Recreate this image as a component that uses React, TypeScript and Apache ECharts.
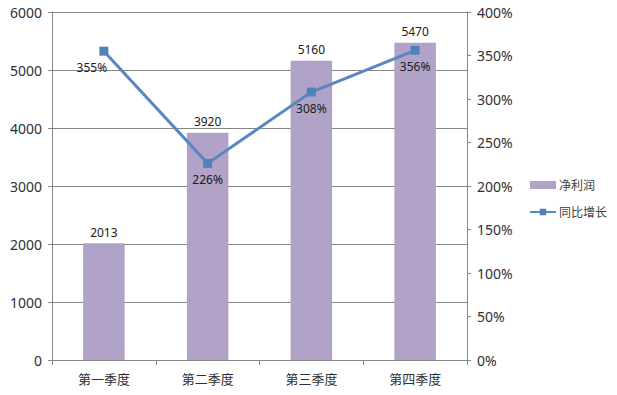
import React, { useEffect, useRef } from "react";
import * as echarts from "echarts";

const categories = ["第一季度", "第二季度", "第三季度", "第四季度"];
const profit = [2013, 3920, 5160, 5470];
const growth = [355, 226, 308, 356];
const growthLabelOffsets = [[-12, 0], [0, 0], [0, 0], [0, 0]];

export default function App() {
  const ref = useRef<HTMLDivElement>(null);
  useEffect(() => {
    const chart = echarts.init(ref.current!, undefined, { renderer: "svg" });
    const font = "'Noto Sans', 'Noto Sans CJK SC', sans-serif";
    chart.setOption({
      animation: false,
      backgroundColor: "#ffffff",
      textStyle: { fontFamily: font },
      grid: { left: 52, right: 150, top: 12, bottom: 35 },
      legend: {
        orient: "vertical",
        left: 529,
        top: 179,
        width: 88,
        padding: 0,
        itemWidth: 26,
        itemHeight: 8,
        itemGap: 15,
        textStyle: { fontSize: 12, color: "#404040", fontFamily: font, padding: [0, 0, 0, -2] },
        data: [
          { name: "净利润", icon: "rect" },
          { name: "同比增长" },
        ],
      },
      xAxis: {
        type: "category",
        data: categories,
        axisLine: { lineStyle: { color: "#868686" } },
        axisTick: { show: true, length: 5, lineStyle: { color: "#868686" } },
        axisLabel: { color: "#303030", fontSize: 13, margin: 12, fontFamily: font },
      },
      yAxis: [
        {
          type: "value",
          min: 0,
          max: 6000,
          interval: 1000,
          axisLine: { show: true, lineStyle: { color: "#868686" } },
          axisTick: { show: true, length: 4, lineStyle: { color: "#868686" } },
          axisLabel: {
            color: "#303030",
            fontSize: 14,
            margin: 10,
            fontFamily: font,
            formatter: (v: number) => String(v),
          },
          splitLine: { show: true, lineStyle: { color: "#868686" } },
        },
        {
          type: "value",
          min: 0,
          max: 400,
          interval: 50,
          position: "right",
          axisLine: { show: true, lineStyle: { color: "#868686" } },
          axisTick: { show: true, length: 4, lineStyle: { color: "#868686" } },
          axisLabel: {
            color: "#303030",
            fontSize: 14,
            margin: 10,
            fontFamily: font,
            formatter: "{value}%",
          },
          splitLine: { show: false },
        },
      ],
      series: [
        {
          name: "净利润",
          type: "bar",
          data: profit,
          barWidth: "40%",
          itemStyle: { color: "#B1A3C8" },
          label: {
            show: true,
            position: "top",
            color: "#202020",
            fontSize: 12,
            distance: 5,
            fontFamily: font,
          },
        },
        {
          name: "同比增长",
          type: "line",
          yAxisIndex: 1,
          data: growth.map((v, i) => ({
            value: v,
            label: { offset: growthLabelOffsets[i] },
          })),
          symbol: "rect",
          symbolSize: 9,
          lineStyle: { color: "#5B87C0", width: 3 },
          itemStyle: { color: "#4F81BD" },
          label: {
            show: true,
            position: "bottom",
            distance: 6,
            color: "#202020",
            fontSize: 12,
            fontFamily: font,
            formatter: "{c}%",
          },
        },
      ],
    });
    return () => chart.dispose();
  }, []);
  return <div ref={ref} style={{ width: 617, height: 395, margin: -8 }} />;
}
